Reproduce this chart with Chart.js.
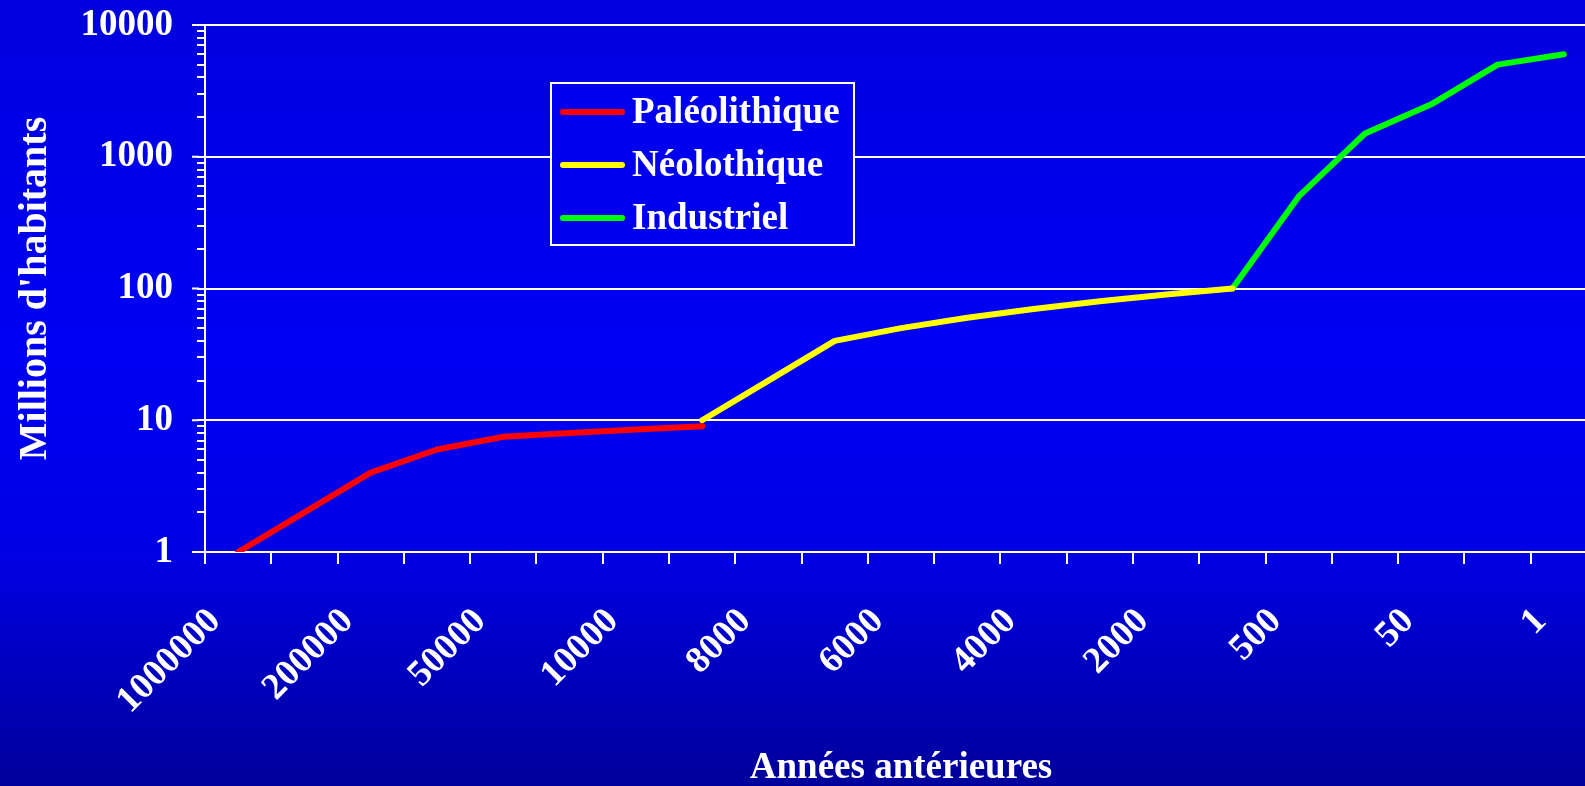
<!DOCTYPE html>
<html>
<head>
<meta charset="utf-8">
<script src="https://cdn.jsdelivr.net/npm/chart.js@4.4.0/dist/chart.umd.min.js"></script>
<style>
  html, body { margin: 0; padding: 0; width: 1585px; height: 786px; overflow: hidden; }
  body {
    background: linear-gradient(to bottom, rgb(0,0,222) 0%, rgb(0,0,245) 45%, rgb(0,0,228) 70%, rgb(0,0,155) 100%);
  }
  #wrap { position: relative; width: 1600px; height: 786px; }
  canvas { display: block; }
</style>
</head>
<body>
<div id="wrap"><canvas id="popChart" width="1600" height="786"></canvas></div>
<script>
// Years before present (only every other one is printed on the axis)
const years = ["1000000", "500000", "200000", "100000", "50000", "20000", "10000", "9000",
               "8000", "7000", "6000", "5000", "4000", "3000", "2000", "1000",
               "500", "200", "50", "10", "1"];

// Millions of people, one series per era
const paleolithique = [1, 2, 4, 6, 7.5, 8, 8.5, 9, null, null, null, null, null, null, null, null, null, null, null, null, null];
const neolithique   = [null, null, null, null, null, null, null, 10, 20, 40, 50, 60, 70, 80, 90, 100, null, null, null, null, null];
const industriel    = [null, null, null, null, null, null, null, null, null, null, null, null, null, null, null, 100, 500, 1500, 2500, 5000, 6000];

const yTicks = [1, 2, 3, 4, 5, 6, 7, 8, 9, 10, 20, 30, 40, 50, 60, 70, 80, 90,
                100, 200, 300, 400, 500, 600, 700, 800, 900, 1000, 2000, 3000, 4000,
                5000, 6000, 7000, 8000, 9000, 10000];

const FONT = '"Liberation Serif", "Times New Roman", serif';
const isDecade = v => Math.abs(Math.log10(v) - Math.round(Math.log10(v))) < 1e-9;

// Legend box drawn inside the plot, like the original; also lengthens the decade ticks
const boxLegend = {
  id: "boxLegend",
  afterDraw(chart) {
    const ctx = chart.ctx;
    const ys = chart.scales.y;
    ctx.save();
    ctx.strokeStyle = "#ffffff";
    ctx.lineWidth = 2;
    ys.ticks.forEach(t => {
      if (!isDecade(t.value)) return;
      const py = ys.getPixelForValue(t.value);
      ctx.beginPath();
      ctx.moveTo(chart.chartArea.left - 13, py);
      ctx.lineTo(chart.chartArea.left - 6, py);
      ctx.stroke();
    });

    const x = 551, y = 83, w = 303, h = 162;
    ctx.fillStyle = "rgb(0,0,238)";
    ctx.fillRect(x, y, w, h);
    ctx.strokeRect(x, y, w, h);
    ctx.font = "bold 37px " + FONT;
    ctx.textBaseline = "middle";
    chart.data.datasets.forEach((ds, i) => {
      const cy = y + 29 + i * 53;
      ctx.strokeStyle = ds.borderColor;
      ctx.lineWidth = 6;
      ctx.lineCap = "round";
      ctx.beginPath();
      ctx.moveTo(x + 12, cy);
      ctx.lineTo(x + 71, cy);
      ctx.stroke();
      ctx.fillStyle = "#ffffff";
      ctx.fillText(ds.label, x + 81, cy + 1);
    });
    ctx.restore();
  }
};

const lineStyle = { borderWidth: 6, pointRadius: 0, borderCapStyle: "round", borderJoinStyle: "round", tension: 0, spanGaps: false };

new Chart(document.getElementById("popChart"), {
  type: "line",
  data: {
    labels: years,
    datasets: [
      { label: "Paléolithique", data: paleolithique, borderColor: "#ff0000", ...lineStyle },
      { label: "Néolothique", data: neolithique, borderColor: "#ffff00", ...lineStyle },
      { label: "Industriel", data: industriel, borderColor: "#00ff00", ...lineStyle }
    ]
  },
  options: {
    responsive: false,
    animation: false,
    layout: { padding: { left: 16, top: 25, right: 3, bottom: 0 } },
    plugins: { legend: { display: false }, tooltip: { enabled: false } },
    scales: {
      x: {
        type: "category",
        offset: true,
        grid: { offset: true, drawOnChartArea: false, color: "#ffffff", lineWidth: 2, tickLength: 12 },
        border: { color: "#ffffff", width: 2 },
        ticks: {
          autoSkip: false, minRotation: 45, maxRotation: 45,
          color: "#ffffff", font: { family: FONT, size: 37, weight: "bold" },
          padding: 36, labelOffset: -23,
          callback: function (v, i) { return i % 2 === 0 ? this.getLabelForValue(v) : ""; }
        },
        title: {
          display: true, text: "Années antérieures", color: "#ffffff",
          font: { family: FONT, size: 37, weight: "bold", lineHeight: 0.75 },
          padding: { top: 0, bottom: 4 }
        },
        afterFit: s => { s.height = 786 - 552; s.paddingRight = 0; s.paddingLeft = 0; }
      },
      y: {
        type: "logarithmic",
        min: 1, max: 10000,
        afterBuildTicks: s => { s.ticks = yTicks.map(v => ({ value: v, major: isDecade(v) })); },
        grid: {
          color: c => (c.tick && isDecade(c.tick.value)) ? "#ffffff" : "rgba(0,0,0,0)",
          tickColor: "#ffffff", lineWidth: 2, tickLength: 8
        },
        border: { color: "#ffffff", width: 2 },
        ticks: {
          autoSkip: false, color: "#ffffff", padding: 24,
          font: { family: FONT, size: 37, weight: "bold" },
          callback: v => isDecade(v) ? String(v) : ""
        },
        title: {
          display: true, text: "Millions d'habitants", color: "#ffffff",
          font: { family: FONT, size: 40, weight: "bold", lineHeight: 1 },
          padding: { top: 0, bottom: 0 }
        },
        afterFit: s => { s.width = 205 - 16; s.paddingTop = 0; s.paddingBottom = 0; }
      }
    }
  },
  plugins: [boxLegend]
});
</script>
</body>
</html>
